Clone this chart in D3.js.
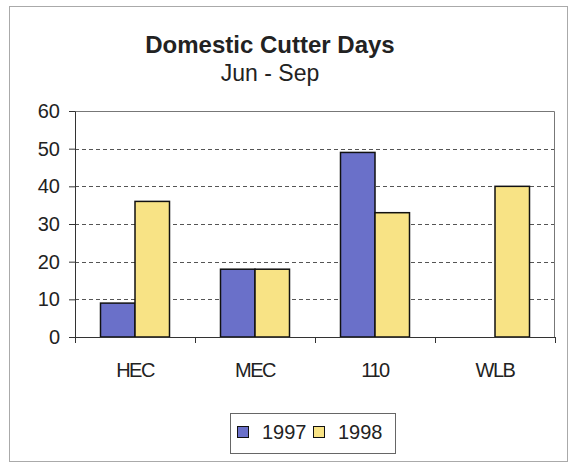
<!DOCTYPE html>
<html>
<head>
<meta charset="utf-8">
<script src="https://cdn.jsdelivr.net/npm/d3@7"></script>
<style>
  body { margin: 0; background: #fff; }
  svg { display: block; font-family: "Liberation Sans", Arial, sans-serif; }
  .axis path, .axis line { stroke: #333; }
  .axis text { font-size: 20px; fill: #222; }
</style>
</head>
<body>
<div id="chart"></div>
<script>
// data
var categories = ["HEC", "MEC", "110", "WLB"];
var years = ["1997", "1998"];
var values1997 = [9, 18, 49, 0];
var values1998 = [36, 18, 33, 40];
var yTicks = [0, 10, 20, 30, 40, 50, 60];

var colors = {"1997": "#6a70c9", "1998": "#f8e385"};

var W = 570, H = 466;
var margin = {top: 111, right: 15, bottom: 129, left: 75};
var width = W - margin.left - margin.right,   // 480
    height = H - margin.top - margin.bottom;  // 226

var svg = d3.select("#chart").append("svg")
  .attr("width", W).attr("height", H);

// outer chart border
svg.append("rect")
  .attr("x", 9.5).attr("y", 6.5)
  .attr("width", 558).attr("height", 455)
  .attr("fill", "none").attr("stroke", "#aaa").attr("stroke-width", 1);

svg.append("text")
  .attr("x", 270).attr("y", 53)
  .attr("text-anchor", "middle")
  .style("font-size", "24px").style("font-weight", "bold").style("fill", "#222")
  .text("Domestic Cutter Days");

svg.append("text")
  .attr("x", 270).attr("y", 81)
  .attr("text-anchor", "middle")
  .style("font-size", "23px").style("fill", "#222")
  .text("Jun - Sep");

var g = svg.append("g").attr("transform", "translate(" + margin.left + "," + margin.top + ")");

var x = d3.scaleBand().domain(categories).range([0, width]);
var x1 = d3.scaleBand().domain(years).range([0, 69]);
var y = d3.scaleLinear().domain([0, 60]).range([height, 0]);
var xEdges = d3.scaleLinear().domain([0, categories.length]).range([0, width]);

// gridlines
g.append("g")
  .selectAll("line")
  .data(yTicks.filter(function(d) { return d > 0 && d < 60; }))
  .enter().append("line")
  .attr("x1", 0).attr("x2", width)
  .attr("y1", function(d) { return Math.round(y(d)) + 0.5; })
  .attr("y2", function(d) { return Math.round(y(d)) + 0.5; })
  .attr("stroke", "#555").attr("stroke-dasharray", "4,3");

// plot area top and right border
g.append("path")
  .attr("d", "M0,0.5H" + (width - 0.5) + "V" + height)
  .attr("fill", "none").attr("stroke", "#777");

// bars
var series = [
  {year: "1997", values: values1997},
  {year: "1998", values: values1998}
];
series.forEach(function(s) {
  g.append("g").selectAll("rect")
    .data(s.values.map(function(v, i) { return {cat: categories[i], value: v}; }).filter(function(d) { return d.value > 0; }))
    .enter().append("rect")
    .attr("x", function(d) { return x(d.cat) + (x.bandwidth() - 69) / 2 + x1(s.year); })
    .attr("y", function(d) { return y(d.value); })
    .attr("width", x1.bandwidth())
    .attr("height", function(d) { return height - y(d.value); })
    .attr("fill", colors[s.year])
    .attr("stroke", "#111").attr("stroke-width", 1.5);
});

// y axis
g.append("g").attr("class", "axis")
  .call(d3.axisLeft(y).tickValues(yTicks).tickSize(6).tickPadding(9).tickSizeOuter(0));

// x axis: ticks at category boundaries
g.append("g").attr("class", "axis")
  .attr("transform", "translate(0," + height + ")")
  .call(d3.axisBottom(xEdges).ticks(categories.length).tickSize(6).tickFormat("").tickSizeOuter(0));

// category labels
g.append("g").attr("class", "axis")
  .attr("transform", "translate(0," + height + ")")
  .call(d3.axisBottom(x).tickSize(0).tickPadding(26))
  .call(function(a) { a.select(".domain").remove(); })
  .selectAll("text").style("font-size", "20px").style("letter-spacing", "-1.5px");

// legend
var legend = svg.append("g").attr("transform", "translate(230,413)");
legend.append("rect")
  .attr("x", 0.5).attr("y", 0.5).attr("width", 165).attr("height", 40)
  .attr("fill", "#fff").attr("stroke", "#666");
var items = legend.selectAll(".item").data(years).enter().append("g")
  .attr("transform", function(d, i) { return "translate(" + (7 + i * 76) + ",0)"; });
items.append("rect")
  .attr("x", 0.5).attr("y", 13.5).attr("width", 11).attr("height", 11)
  .attr("fill", function(d) { return colors[d]; })
  .attr("stroke", "#111");
items.append("text")
  .attr("x", 25).attr("y", 26)
  .style("font-size", "20px").style("fill", "#222")
  .text(function(d) { return d; });
</script>
</body>
</html>
